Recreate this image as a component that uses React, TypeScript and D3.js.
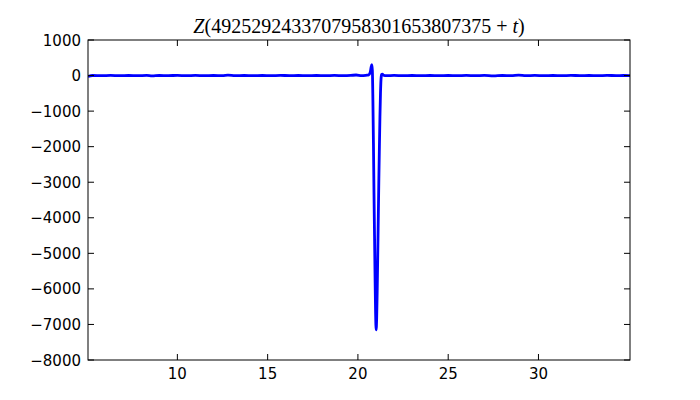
import React from "react";
import * as d3 from "d3";

const tValues = [
  5.05, 5.3, 5.8, 6.3, 6.8, 7.3, 7.8, 8.3, 8.6, 9.0, 9.5, 10.0, 10.5, 11.0, 11.5, 12.0, 12.5, 12.8,
  13.2, 13.7, 14.2, 14.7, 15.2, 15.7, 16.2, 16.7, 17.2, 17.7, 18.2, 18.7, 19.2, 19.6, 19.9, 20.2,
  20.45, 20.6, 20.68, 20.73, 20.77, 20.8, 20.83, 20.86, 20.89, 20.92, 20.95, 20.98, 21.01, 21.04,
  21.07, 21.1, 21.13, 21.16, 21.19, 21.22, 21.25, 21.28, 21.31, 21.35, 21.42, 21.5, 21.6, 22.0,
  22.5, 23.0, 23.5, 24.0, 24.5, 25.0, 25.5, 26.0, 26.5, 27.0, 27.5, 28.0, 28.5, 28.9, 29.3, 29.8,
  30.3, 30.8, 31.3, 31.8, 32.3, 32.8, 33.3, 33.8, 34.3, 34.7, 35.07,
];
const zValues = [
  -25, 2, -2, 3, -2, 1, -3, 4, -8, 2, -1, 3, -2, 3, -2, 1, -3, 10,
  -1, 2, -3, 2, -2, 3, -1, 2, -3, 2, -2, 3, -2, 4, 15, -4,
  8, 20, 90, 230, 310, 150, -700, -1900, -3300, -4500, -5700, -6700, -7150, -6800,
  -6000, -5000, -3950, -2900, -2000, -1150, -500, -100, 30, 40, 10, 0, -3, 3,
  -2, 2, -3, 2, -1, 2, -3, 3, -2, 3, -8, 2, -1, 12, -2, 3,
  -2, 2, -3, 4, -2, 2, -3, 3, -1, 2, -1,
];
const xTicks = [10, 15, 20, 25, 30];
const yTicks = [-8000, -7000, -6000, -5000, -4000, -3000, -2000, -1000, 0, 1000];
const titleText = "4925292433707958301653807375";

export default function App() {
  const W = 700, H = 400;
  const L = 88, R = 630, T = 40, B = 360;
  const x = d3.scaleLinear().domain([5.05, 35.07]).range([L, R]);
  const y = d3.scaleLinear().domain([-8000, 1000]).range([B, T]);
  const pts = tValues.map((t, i) => [t, zValues[i]] as [number, number]);
  const line = d3.line<[number, number]>().x(d => x(d[0])).y(d => y(d[1])).curve(d3.curveMonotoneX);
  const fmt = (v: number) => (v < 0 ? "\u2212" + Math.abs(v) : String(v));
  const tl = 6;
  return (
    <svg width={W} height={H} style={{ position: "absolute", left: 0, top: 0, background: "#fff" }}>
      <rect x={0} y={0} width={W} height={H} fill="#fff" />
      <defs>
        <clipPath id="clip">
          <rect x={L} y={T} width={R - L} height={B - T} />
        </clipPath>
      </defs>
      <path d={line(pts) || ""} fill="none" stroke="#0000ff" strokeWidth={2.8} strokeLinejoin="round" clipPath="url(#clip)" />
      <rect x={L} y={T} width={R - L} height={B - T} fill="none" stroke="#000" strokeWidth={1} />
      {xTicks.map(v => (
        <g key={"x" + v}>
          <line x1={x(v)} x2={x(v)} y1={B} y2={B - tl} stroke="#000" />
          <line x1={x(v)} x2={x(v)} y1={T} y2={T + tl} stroke="#000" />
          <text x={x(v)} y={379} textAnchor="middle" fontFamily="DejaVu Sans" fontSize={15} fill="#000">
            {fmt(v)}
          </text>
        </g>
      ))}
      {yTicks.map(v => (
        <g key={"y" + v}>
          <line x1={L} x2={L + tl} y1={y(v)} y2={y(v)} stroke="#000" />
          <line x1={R} x2={R - tl} y1={y(v)} y2={y(v)} stroke="#000" />
          <text x={81} y={y(v) + 5.5} textAnchor="end" fontFamily="DejaVu Sans" fontSize={15} fill="#000">
            {fmt(v)}
          </text>
        </g>
      ))}
      <text x={359} y={33} textAnchor="middle" fontFamily="Liberation Serif" fontSize={20} fill="#000">
        <tspan fontStyle="italic">Z</tspan>({titleText} + <tspan fontStyle="italic">t</tspan>)
      </text>
    </svg>
  );
}
